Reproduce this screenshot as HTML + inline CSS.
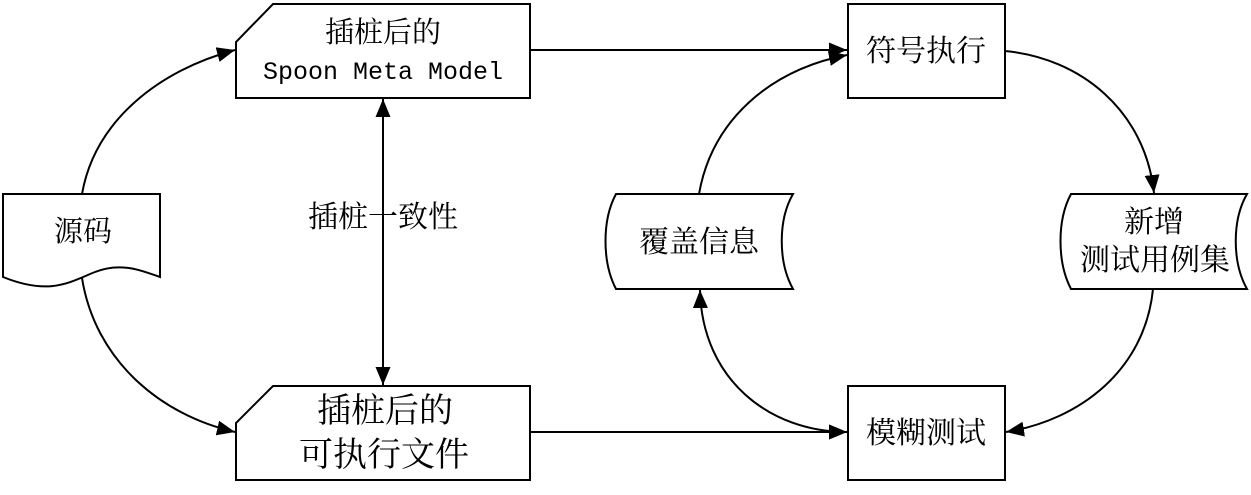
<!DOCTYPE html>
<html><head><meta charset="utf-8"><style>
body{margin:0;background:#fff}
svg text{font-family:"Liberation Sans","Noto Serif CJK SC","Noto Sans CJK SC",sans-serif;fill:#000}
</style></head><body>
<svg width="1251" height="490" viewBox="0 0 1251 490" xmlns="http://www.w3.org/2000/svg">
<defs>
<marker id="a" viewBox="0 0 10 10" refX="10" refY="5" markerWidth="18" markerHeight="15" markerUnits="userSpaceOnUse" preserveAspectRatio="none" orient="auto-start-reverse">
<path d="M0,0 L10,5 L0,10 z" fill="#000"/></marker>
</defs>
<g fill="none" stroke="#000" stroke-width="2">
<path d="M273,4 H530 V98 H236 V42 Z" fill="#fff"/>
<path d="M273,386 H530 V480 H236 V423 Z" fill="#fff"/>
<path d="M3,194 H160 V277 C140,270 120,262 95,272 C70,282 50,296 3,277 Z" fill="#fff"/>
<rect x="848" y="4" width="157" height="94" fill="#fff"/>
<rect x="848" y="386" width="157" height="94" fill="#fff"/>
<path d="M616,194 H793 C778,220 778,262 793,289 H616 C602,262 602,220 616,194 Z" fill="#fff"/>
<path d="M1071,194 H1247 C1232,220 1232,262 1247,289 H1071 C1057,262 1057,220 1071,194 Z" fill="#fff"/>
<path d="M82,194 C95,120 160,70 235,50" marker-end="url(#a)"/>
<path d="M82,278 C95,360 160,415 235,432" marker-end="url(#a)"/>
<path d="M383,99 V385" marker-start="url(#a)" marker-end="url(#a)"/>
<path d="M530,50 H847" marker-end="url(#a)"/>
<path d="M530,432 H847" marker-end="url(#a)"/>
<path d="M699,194 C712,120 770,70 847,55" marker-end="url(#a)"/>
<path d="M1005,51 C1080,58 1145,110 1154,193" marker-end="url(#a)"/>
<path d="M1153,289 C1145,370 1080,420 1006,432" marker-end="url(#a)"/>
<path d="M700,290 C702,380 770,432 847,432" marker-start="url(#a)" marker-end="url(#a)"/>
</g>
<g text-anchor="middle">
<text x="383" y="42" font-size="29">插桩后的</text>
<text x="383" y="79" font-size="25" style="font-family:'Liberation Mono',monospace">Spoon Meta Model</text>
<text x="385" y="422" font-size="34">插桩后的</text>
<text x="384" y="466" font-size="34">可执行文件</text>
<text x="83" y="241" font-size="29">源码</text>
<text x="383" y="227" font-size="30">插桩一致性</text>
<text x="926" y="61" font-size="30">符号执行</text>
<text x="926" y="443" font-size="30">模糊测试</text>
<text x="699" y="252" font-size="30">覆盖信息</text>
<text x="1154" y="232" font-size="30">新增</text>
<text x="1155" y="270" font-size="30">测试用例集</text>
</g>
</svg>
</body></html>
